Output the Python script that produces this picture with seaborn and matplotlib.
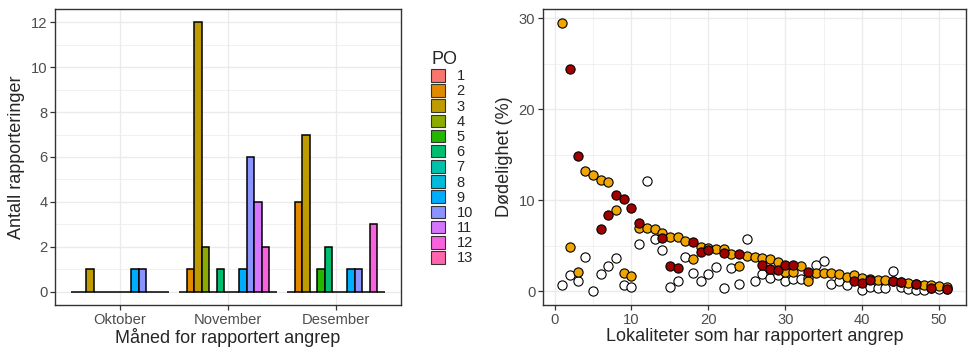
import seaborn as sns
import matplotlib.pyplot as plt
import pandas as pd
from matplotlib.patches import Patch
from matplotlib.ticker import MultipleLocator

# ---- data: left panel (reports per PO and month)
months = ['Oktober', 'November', 'Desember']
po_labels = [str(i) for i in range(1, 14)]
oktober = [0, 0, 1, 0, 0, 0, 0, 0, 1, 1, 0, 0, 0]
november = [0, 1, 12, 2, 0, 1, 0, 0, 1, 6, 4, 2, 0]
desember = [0, 4, 7, 0, 1, 2, 0, 0, 1, 1, 0, 3, 0]

PO_COLORS = ['#F8766D', '#E18A00', '#BE9C00', '#8CAB00', '#24B700', '#00BE70', '#00C1AB',
             '#00BBDA', '#00ACFC', '#8B93FF', '#D575FE', '#F962DD', '#FF65AC']

# ---- data: right panel (mortality per site)
sites = list(range(1, 52))
white_y = [0.7, 1.8, 1.1, 3.8, 0.0, 1.9, 2.8, 3.7, 0.7, 0.5,
           5.2, 12.1, 5.7, 4.5, 0.5, 1.1, 3.8, 2.0, 1.1, 1.9,
           2.7, 0.4, 2.6, 0.8, 5.8, 1.1, 1.9, 1.5, 1.8, 1.1,
           1.3, 1.3, 1.5, 2.9, 3.3, 0.8, 1.1, 0.7, 1.3, 0.1,
           0.5, 0.4, 0.4, 2.2, 0.5, 0.3, 0.2, 0.1, 0.4, 0.3, 0.3]
orange_y = [29.5, 4.9, 2.1, 13.2, 12.8, 12.2, 12.0, 8.9, 2.0, 1.7,
            7.0, 6.9, 6.8, 6.4, 6.0, 6.0, 5.5, 3.6, 4.9, 4.8,
            4.7, 4.6, 4.1, 2.8, 3.9, 3.8, 3.7, 3.5, 3.2, 2.1,
            2.1, 2.8, 1.1, 2.0, 2.0, 2.0, 1.9, 1.6, 1.8, 1.5,
            1.3, 1.2, 1.2, 1.1, 1.0, 0.9, 0.8, 0.7, 0.7, 0.6, 0.5]
red_x = [2, 3, 6, 7, 8, 9, 10, 11, 14, 15, 16, 18, 19, 20, 22, 24, 27, 28, 29, 30,
         31, 33, 39, 40, 41, 44, 45, 47, 49, 51]
red_y = [24.4, 14.9, 6.8, 8.4, 10.6, 10.1, 9.2, 7.5, 5.9, 2.8, 2.6, 5.4, 4.3, 4.5, 4.2, 4.1, 2.9, 2.4, 2.3, 2.9,
         2.9, 2.1, 1.1, 0.9, 1.2, 1.1, 1.0, 0.8, 0.4, 0.3]

sns.set_style('white')
plt.rcParams['font.family'] = ['Liberation Sans', 'DejaVu Sans']

GRID = '#EBEBEB'
BORDER = '#333333'
TICKTXT = '#4D4D4D'

fig = plt.figure(figsize=(9.75, 3.59), dpi=100)
ax1 = fig.add_axes([55 / 975, 54 / 359, 346 / 975, 296 / 359])
ax2 = fig.add_axes([543 / 975, 54 / 359, 423 / 975, 296 / 359])


def style_axes(ax):
    ax.set_axisbelow(True)
    ax.grid(which='major', color=GRID, linewidth=1.0)
    ax.grid(which='minor', color=GRID, linewidth=0.5)
    for s in ax.spines.values():
        s.set_visible(True)
        s.set_color(BORDER)
        s.set_linewidth(1.0)
    ax.tick_params(which='major', direction='out', length=3.5, width=0.9, color=BORDER,
                   labelsize=10.6, labelcolor=TICKTXT, bottom=True, left=True, pad=2)
    ax.tick_params(which='minor', length=0)


### Left: bar chart
rows = []
for m, vals in zip(months, [oktober, november, desember]):
    for po, v in zip(po_labels, vals):
        rows.append({'month': m, 'PO': po, 'count': v})
df = pd.DataFrame(rows)

sns.barplot(data=df, x='month', y='count', hue='PO', hue_order=po_labels, order=months,
            palette=PO_COLORS, saturation=1, width=0.9, gap=0, edgecolor='black',
            linewidth=1.1, errorbar=None, ax=ax1, legend=False)
ax1.set_xlim(-0.6, 2.6)
ax1.set_ylim(-0.6, 12.6)
ax1.yaxis.set_major_locator(MultipleLocator(2))
ax1.yaxis.set_minor_locator(MultipleLocator(1))
style_axes(ax1)
ax1.set_xlabel('Måned for rapportert angrep', fontsize=13, labelpad=1)
ax1.set_ylabel('Antall rapporteringer', fontsize=13, labelpad=4)

handles = [Patch(facecolor=c, edgecolor='#333333', linewidth=0.8) for c in PO_COLORS]
leg = ax1.legend(handles, po_labels, title='PO', loc='upper left',
                 bbox_to_anchor=(418 / 975, 321 / 359), bbox_transform=fig.transFigure,
                 frameon=False, fontsize=10.5, title_fontsize=13, handlelength=0.95,
                 handleheight=0.95, labelspacing=0.06, handletextpad=0.8, alignment='left')

### Right: scatter
sns.scatterplot(x=sites, y=white_y, ax=ax2, color='white', edgecolor='black', s=44, linewidth=0.8, zorder=3)
sns.scatterplot(x=sites, y=orange_y, ax=ax2, color='#F0A500', edgecolor='black', s=44, linewidth=0.8, zorder=4)
sns.scatterplot(x=red_x, y=red_y, ax=ax2, color='#A00000', edgecolor='black', s=44, linewidth=0.8, zorder=5)
ax2.set_xlim(-1.5, 53.5)
ax2.set_ylim(-1.5, 31)
ax2.xaxis.set_major_locator(MultipleLocator(10))
ax2.xaxis.set_minor_locator(MultipleLocator(5))
ax2.yaxis.set_major_locator(MultipleLocator(10))
ax2.yaxis.set_minor_locator(MultipleLocator(5))
style_axes(ax2)
ax2.set_xlabel('Lokaliteter som har rapportert angrep', fontsize=13, labelpad=1)
ax2.set_ylabel('Dødelighet (%)', fontsize=13, labelpad=4)

fig.savefig('out.png', dpi=100)
